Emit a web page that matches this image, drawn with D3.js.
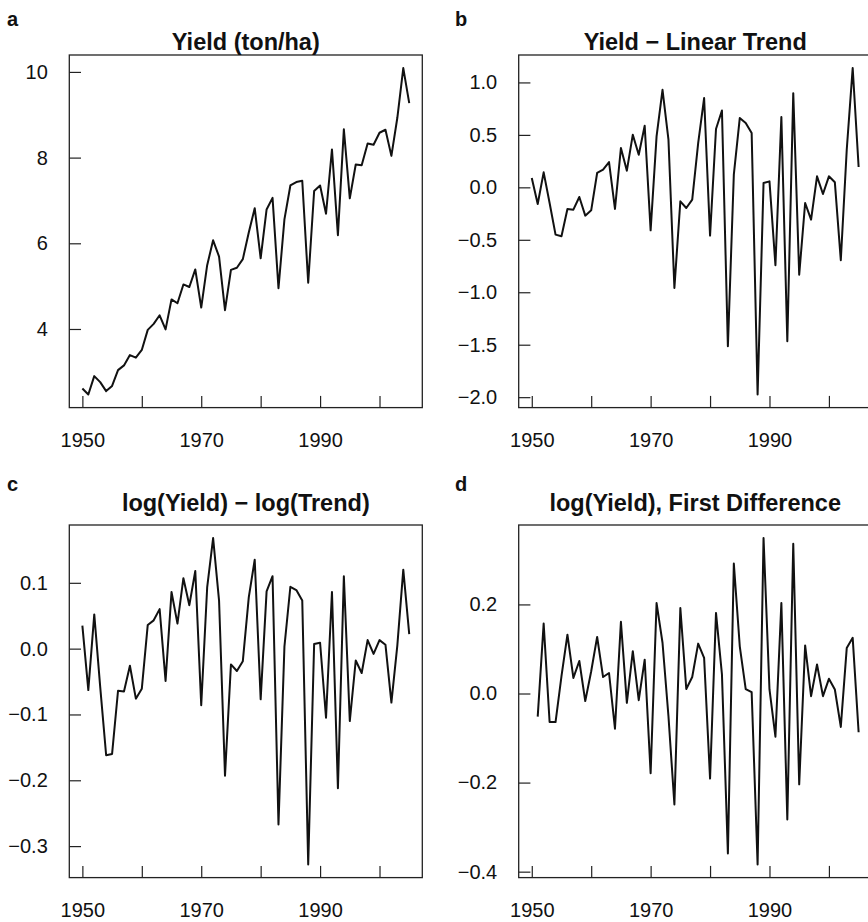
<!DOCTYPE html>
<html>
<head>
<meta charset="utf-8">
<script src="https://cdn.jsdelivr.net/npm/d3@7"></script>
<style>
  body { margin: 0; background: #fff; }
  svg text { font-family: "Liberation Sans", Arial, Helvetica, sans-serif; fill: #111; }
  .axis line { stroke: #222; stroke-width: 1.2; }
  .axis path { display: none; }
  .axis text { font-size: 20px; }
  .title { font-size: 23.5px; font-weight: bold; }
  .tag { font-size: 20px; font-weight: bold; }
</style>
</head>
<body>
<svg id="chart" width="868" height="922"></svg>
<script>
// yearly series, 1950-2005
const years = d3.range(1950, 2006);

const yieldVals = [
  2.61, 2.47, 2.90, 2.76, 2.55, 2.67, 3.04, 3.15, 3.39, 3.33,
  3.51, 3.98, 4.12, 4.32, 3.99, 4.69, 4.60, 5.04, 4.98, 5.39,
  4.50, 5.49, 6.07, 5.69, 4.44, 5.38, 5.43, 5.63, 6.25, 6.82,
  5.65, 6.79, 7.06, 4.95, 6.56, 7.35, 7.43, 7.46, 5.08, 7.22,
  7.35, 6.69, 8.19, 6.19, 8.66, 7.05, 7.84, 7.82, 8.33, 8.30,
  8.58, 8.65, 8.04, 8.93, 10.09, 9.27
];

const linearResid = [
  0.089, -0.159, 0.143, -0.149, -0.451, -0.467, -0.206, -0.213, -0.092, -0.270,
  -0.219, 0.137, 0.168, 0.241, -0.206, 0.375, 0.159, 0.502, 0.311, 0.587,
  -0.410, 0.486, 0.930, 0.454, -0.959, -0.133, -0.197, -0.117, 0.422, 0.851,
  -0.460, 0.556, 0.733, -1.514, 0.121, 0.660, 0.613, 0.517, -1.975, 0.041,
  0.057, -0.743, 0.670, -1.467, 0.898, -0.832, -0.149, -0.308, 0.105, -0.063,
  0.105, 0.048, -0.695, 0.359, 1.137, 0.194
];

const logResid = [
  0.035, -0.063, 0.052, -0.058, -0.162, -0.160, -0.064, -0.065, -0.026, -0.076,
  -0.061, 0.036, 0.043, 0.060, -0.049, 0.086, 0.038, 0.107, 0.066, 0.118,
  -0.086, 0.093, 0.168, 0.073, -0.193, -0.024, -0.034, -0.019, 0.078, 0.135,
  -0.077, 0.087, 0.110, -0.267, 0.003, 0.094, 0.089, 0.073, -0.328, 0.007,
  0.009, -0.105, 0.086, -0.212, 0.110, -0.110, -0.018, -0.037, 0.013, -0.008,
  0.013, 0.006, -0.082, 0.005, 0.120, 0.022
];

// first difference starts one year later
const diffYears = years.slice(1);
const logDiff = [
  -0.052, 0.157, -0.064, -0.064, 0.039, 0.132, 0.035, 0.073, -0.017,
  0.050, 0.127, 0.037, 0.046, -0.079, 0.161, -0.021, 0.095, -0.015, 0.076,
  -0.179, 0.203, 0.114, -0.051, -0.249, 0.192, 0.010, 0.037, 0.112, 0.080,
  -0.191, 0.181, 0.043, -0.359, 0.292, 0.106, 0.010, 0.003, -0.384, 0.349,
  0.009, -0.097, 0.203, -0.283, 0.336, -0.204, 0.108, -0.006, 0.065, -0.006,
  0.033, 0.009, -0.075, 0.102, 0.125, -0.087
];

const xTicks = [1950, 1960, 1970, 1980, 1990, 2000];
const xLabels = [1950, 1970, 1990];
const yTicksA = [4, 6, 8, 10];
const yTicksB = [1.0, 0.5, 0.0, -0.5, -1.0, -1.5, -2.0];
const yTicksC = [0.1, 0.0, -0.1, -0.2, -0.3];
const yTicksD = [0.2, 0.0, -0.2, -0.4];

const panels = [
  { tag: "a", title: "Yield (ton/ha)", x: years, y: yieldVals, ticks: yTicksA, fmt: d3.format("d"), col: 0, row: 0 },
  { tag: "b", title: "Yield \u2212 Linear Trend", x: years, y: linearResid, ticks: yTicksB, fmt: d3.format(".1f"), col: 1, row: 0 },
  { tag: "c", title: "log(Yield) \u2212 log(Trend)", x: years, y: logResid, ticks: yTicksC, fmt: d3.format(".1f"), col: 0, row: 1 },
  { tag: "d", title: "log(Yield), First Difference", x: diffYears, y: logDiff, ticks: yTicksD, fmt: d3.format(".1f"), col: 1, row: 1 }
];

const colLeft = [69.3, 518.7];
const rowTop = [55, 525];
const titleY = [-5.5, -14.3];
const tagY = [26, 491];
const boxW = 353;
const boxH = 352.6;
const tickLen = 11.7;

const svg = d3.select("#chart");
svg.append("rect").attr("width", 868).attr("height", 922).attr("fill", "#fff");

// R-style range: data extent padded by 4% on each side
function padded(lo, hi) {
  const s = hi - lo;
  return [lo - 0.04 * s, hi + 0.04 * s];
}

const xDomain = padded(d3.min(years), d3.max(years));

panels.forEach(p => {
  const left = colLeft[p.col];
  const top = rowTop[p.row];

  const g = svg.append("g").attr("transform", `translate(${left},${top})`);

  const x = d3.scaleLinear().domain(xDomain).range([0, boxW]);
  const y = d3.scaleLinear().domain(padded(d3.min(p.y), d3.max(p.y))).range([boxH, 0]);

  const xAxis = d3.axisBottom(x)
    .tickValues(xTicks)
    .tickFormat(d => xLabels.includes(d) ? String(d) : "")
    .tickSizeInner(-tickLen)
    .tickSizeOuter(0)
    .tickPadding(25);

  const yAxis = d3.axisLeft(y)
    .tickValues(p.ticks)
    .tickFormat(p.fmt)
    .tickSizeInner(-tickLen)
    .tickSizeOuter(0)
    .tickPadding(21.5);

  g.append("g").attr("class", "axis").attr("transform", `translate(0,${boxH})`).call(xAxis);
  g.append("g").attr("class", "axis").call(yAxis);

  const line = d3.line()
    .x((d, i) => x(p.x[i]))
    .y(d => y(d));

  g.append("path")
    .datum(p.y)
    .attr("d", line)
    .attr("fill", "none")
    .attr("stroke", "#111")
    .attr("stroke-width", 2)
    .attr("stroke-linejoin", "round");

  g.append("rect")
    .attr("width", boxW)
    .attr("height", boxH)
    .attr("fill", "none")
    .attr("stroke", "#222")
    .attr("stroke-width", 1.3);

  g.append("text")
    .attr("class", "title")
    .attr("x", boxW / 2)
    .attr("y", titleY[p.row])
    .attr("text-anchor", "middle")
    .text(p.title);

  svg.append("text")
    .attr("class", "tag")
    .attr("x", p.col === 0 ? 7 : 455)
    .attr("y", tagY[p.row])
    .text(p.tag);
});
</script>
</body>
</html>
